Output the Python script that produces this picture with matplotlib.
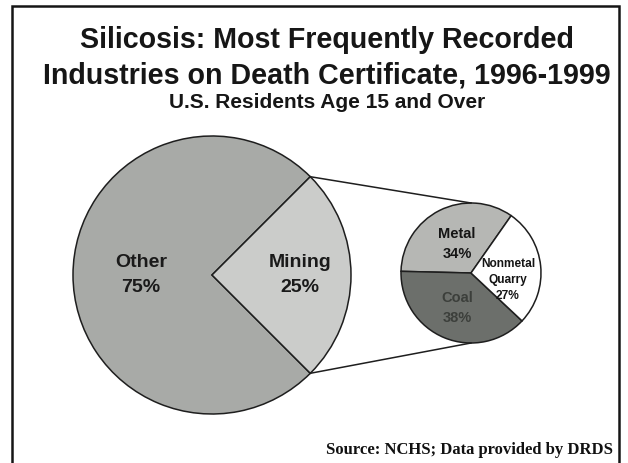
import matplotlib.pyplot as plt
from matplotlib.patches import Rectangle
import numpy as np

# Data
main_labels = ["Other", "Mining"]
main_values = [75, 25]
main_colors = ["#a8aaa7", "#cbccca"]

mining_labels = ["Metal", "Coal", "Nonmetal\nQuarry"]
mining_values = [34, 38, 27]
mining_colors = ["#b6b7b4", "#6c6f6b", "#ffffff"]

title_lines = ["Silicosis: Most Frequently Recorded",
               "Industries on Death Certificate, 1996-1999"]
subtitle = "U.S. Residents Age 15 and Over"
source = "Source: NCHS; Data provided by DRDS"

W, H = 628, 464
fig = plt.figure(figsize=(W / 100, H / 100), dpi=100)
ax = fig.add_axes([0, 0, 1, 1])

# big pie (pixel coordinates, y up)
big_c, big_r = (212, H - 276), 139
wedges1, _ = ax.pie(main_values, colors=main_colors, startangle=45,
                    center=big_c, radius=big_r,
                    wedgeprops=dict(edgecolor="#1e1e1e", linewidth=1.1))

# small pie
small_c, small_r = (471, H - 274), 70
wedges2, _ = ax.pie(mining_values, colors=mining_colors, startangle=55,
                    center=small_c, radius=small_r,
                    wedgeprops=dict(edgecolor="#1e1e1e", linewidth=1.1))

# connector lines from mining wedge edges to top/bottom of small pie
mw = wedges1[1]
for ang, dy in [(mw.theta2, small_r), (mw.theta1, -small_r)]:
    a = np.deg2rad(ang)
    x0 = big_c[0] + big_r * np.cos(a)
    y0 = big_c[1] + big_r * np.sin(a)
    ax.plot([x0, small_c[0]], [y0, small_c[1] + dy], color="#1e1e1e", lw=1.1)

# labels
big_pos = [(-71, 1), (88, 1)]
for lab, v, (dx, dy) in zip(main_labels, main_values, big_pos):
    ax.text(big_c[0] + dx, big_c[1] + dy, f"{lab}\n{v}%", ha="center", va="center",
            fontsize=14, fontweight="bold", family="Liberation Sans",
            color="#1a1a1a", linespacing=1.55)

small_pos = [(-14, 30), (-14, -34), (37, -6)]
small_size = [10.5, 10.5, 8.6]
small_space = [1.6, 1.6, 1.4]
small_tcol = ["#151515", "#3c3f3b", "#151515"]
for lab, v, (dx, dy), fs, ls, tc in zip(mining_labels, mining_values, small_pos,
                                        small_size, small_space, small_tcol):
    ax.text(small_c[0] + dx, small_c[1] + dy, f"{lab}\n{v}%", ha="center", va="center",
            fontsize=fs, fontweight="bold", family="Liberation Sans",
            color=tc, linespacing=ls)

# titles
for line, base in zip(title_lines, [48, 83]):
    ax.text(327, H - base, line, ha="center", va="baseline", fontsize=20.6,
            fontweight="bold", family="Liberation Sans", color="#161616")
ax.text(327, H - 108, subtitle, ha="center", va="baseline", fontsize=15,
        fontweight="bold", family="Liberation Sans", color="#161616")
ax.text(613, H - 454, source, ha="right", va="baseline", fontsize=12,
        fontweight="bold", family="Liberation Serif", color="#111111")

# frame
ax.add_patch(Rectangle((12, -20), 607, H - 7 + 20, fill=False,
                       edgecolor="#151515", linewidth=1.8))

ax.set_xlim(0, W)
ax.set_ylim(0, H)
ax.set_aspect("auto")
ax.axis("off")

fig.savefig("out.png", dpi=100, facecolor="white")
